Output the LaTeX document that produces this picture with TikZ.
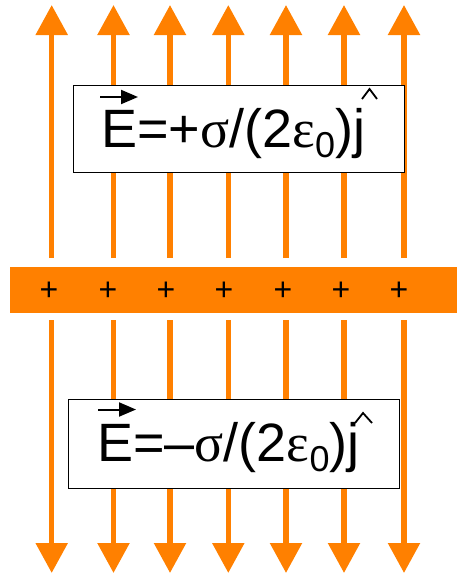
\documentclass[tikz,border=0pt]{standalone}
\usepackage{fontspec}
\setmainfont{Liberation Sans}
\newfontfamily\greekfont{Liberation Serif}
\usetikzlibrary{arrows.meta}
\definecolor{fieldorange}{RGB}{255,128,0}
\begin{document}
\begin{tikzpicture}[x=1pt,y=-1pt,
  fieldline/.style={draw=fieldorange,line width=5.5pt,-{Triangle[width=31pt,length=30pt]}},
  eqbox/.style={draw=black,line width=1pt,fill=white},
  eqtext/.style={inner sep=0pt,font=\fontsize{54}{58}\selectfont},
  plussign/.style={inner sep=0pt,font=\fontsize{32}{34}\selectfont},
  vecarrow/.style={draw=black,line width=2pt,-{Triangle[width=14pt,length=17pt]}},
  hatmark/.style={draw=black,line width=1.8pt}]
\useasboundingbox (0,0) rectangle (457,576);
% charged sheet
\fill[fieldorange] (10,267) rectangle (457,313);
% field lines
\foreach \i/\x in {1/51.7,2/113.5,3/170,4/228.3,5/286,6/344,7/404}{
  \coordinate (us\i) at (\x,258);
  \coordinate (ut\i) at (\x,5);
  \coordinate (ds\i) at (\x,320);
  \coordinate (dt\i) at (\x,573);
  \draw[fieldline] (us\i) -- (ut\i);
  \draw[fieldline] (ds\i) -- (dt\i);
}
% plus signs
\foreach \i/\x in {1/49,2/108,3/166,4/224,5/283,6/341,7/399}{
  \node[plussign] (p\i) at (\x,291) {+};
}
% upper box
\node[eqbox,minimum width=331pt,minimum height=87pt,anchor=north west] (ubox) at (73,85) {};
\node[eqtext,anchor=base west] (utext) at (101,147) {E=+{\greekfont σ}/(2{\greekfont ε}\raisebox{-10pt}{\fontsize{36}{36}\selectfont 0})j};
\coordinate (ua0) at (100,97);
\coordinate (ua1) at (138,97);
\draw[vecarrow] (ua0) -- (ua1);
\draw[hatmark] (362,99) -- (369.5,89) -- (377,99);
% lower box
\node[eqbox,minimum width=331pt,minimum height=89pt,anchor=north west] (dbox) at (68,399) {};
\node[eqtext,anchor=base west] (dtext) at (97,461) {E=–{\greekfont σ}/(2{\greekfont ε}\raisebox{-10pt}{\fontsize{36}{36}\selectfont 0})j};
\coordinate (da0) at (98,409.5);
\coordinate (da1) at (136,409.5);
\draw[vecarrow] (da0) -- (da1);
\draw[hatmark] (355,423) -- (363,413) -- (372,423);
\end{tikzpicture}
\end{document}
